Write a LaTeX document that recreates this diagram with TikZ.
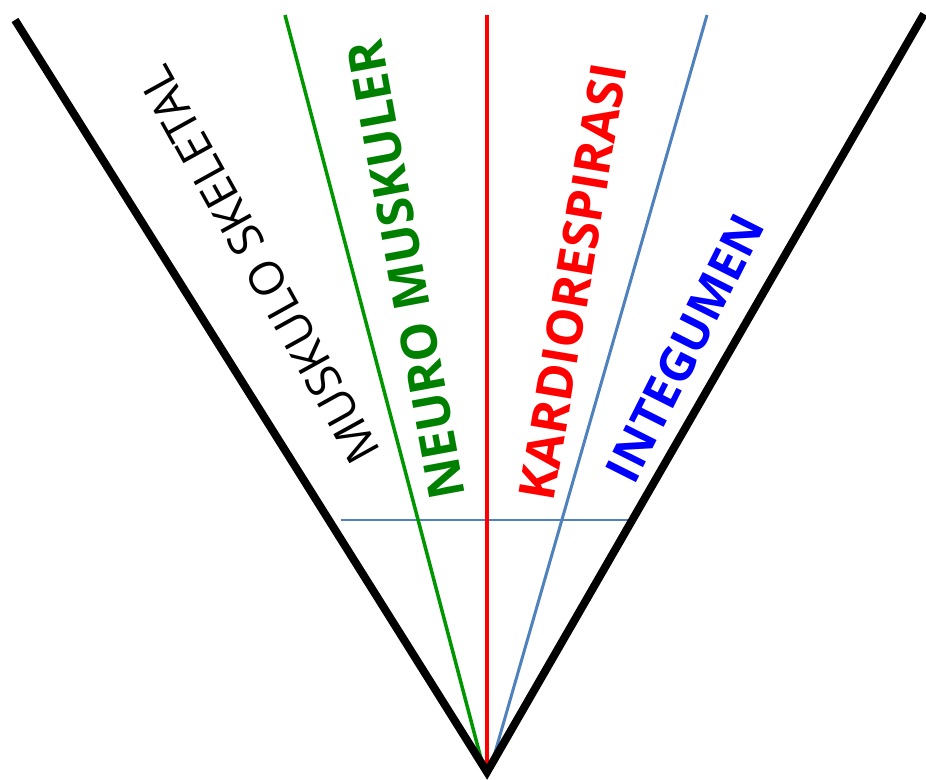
\documentclass[tikz,border=0pt]{standalone}
\usepackage{fontspec}
\setmainfont{Open Sans}
\definecolor{lgreen}{RGB}{0,150,0}
\definecolor{tgreen}{RGB}{0,128,0}
\definecolor{lblue}{RGB}{79,129,189}
\definecolor{tblue}{RGB}{0,0,255}
\begin{document}
\begin{tikzpicture}[x=1pt,y=-1pt,
  lbl/.style={inner sep=0pt, font=\fontsize{47}{47}\selectfont},
  blbl/.style={inner sep=0pt, font=\fontsize{50}{50}\selectfont\bfseries}]
\useasboundingbox (0,0) rectangle (926,779);
\coordinate (apex) at (487,772);
\coordinate (bl) at (15,20);
\coordinate (br) at (924,14);
\coordinate (gt) at (285,15);
\coordinate (rt) at (487,15);
\coordinate (bt) at (707,15);
\coordinate (hl) at (341,520);
\coordinate (hr) at (631,520);
\draw[lblue, line width=2pt] (hl) -- (hr);
\draw[lgreen, line width=3.5pt] (gt) -- (484,770);
\draw[lblue, line width=3pt] (bt) -- (490,770);
\draw[red, line width=3.5pt] (rt) -- (apex);
\draw[black, line width=8pt] (bl) -- (apex) -- (br);
\node[lbl, rotate=119] (ms) at (259,265) {MUSKULO SKELETAL};
\node[blbl, text=tgreen, rotate=100.5] (nm) at (406,270) {NEURO MUSKULER};
\node[blbl, text=red, rotate=80.4] (kr) at (573,282) {KARDIORESPIRASI};
\node[blbl, text=tblue, rotate=63.3, font=\fontsize{48}{48}\selectfont\bfseries] (in) at (685,348) {INTEGUMEN};
\end{tikzpicture}
\end{document}
